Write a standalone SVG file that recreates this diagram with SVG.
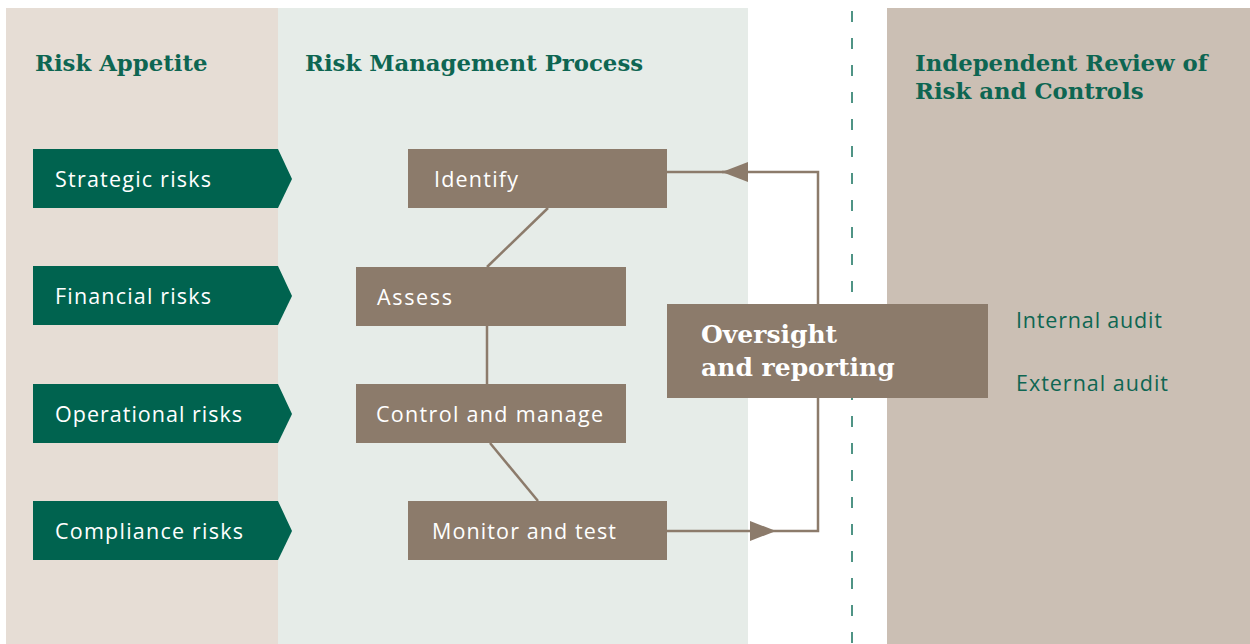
<svg xmlns="http://www.w3.org/2000/svg" width="1250" height="644" viewBox="0 0 1250 644">
  <defs>
    <style>
      .head { font-family: "DejaVu Serif", "Liberation Serif", serif; font-weight: bold; font-size: 22.8px; fill: #0e6652; }
      .risk { fill: #00634f; }
      .step { fill: #8c7b6b; }
      .lbl { font-family: "Open Sans", "Liberation Sans", Arial, sans-serif; font-size: 21.5px; fill: #ffffff; }
      .audit { font-family: "Open Sans", "Liberation Sans", Arial, sans-serif; font-size: 21.5px; fill: #0e6652; }
      .big { font-family: "DejaVu Serif", "Liberation Serif", serif; font-weight: bold; font-size: 25px; fill: #ffffff; }
      .link { stroke: #8c7b6b; stroke-width: 2.5; fill: none; }
    </style>
    <marker id="tri" viewBox="0 0 26 20" refX="26" refY="10" markerWidth="26" markerHeight="20" markerUnits="userSpaceOnUse" orient="auto">
      <path d="M0,0 L26,10 L0,20 Z" fill="#8c7b6b"/>
    </marker>
  </defs>

  <rect width="1250" height="644" fill="#ffffff"/>

  <!-- column backgrounds -->
  <g id="panels">
    <rect x="6" y="8" width="272" height="636" fill="#e6ddd5"/>
    <rect x="278" y="8" width="470" height="636" fill="#e6ece8"/>
    <rect x="887" y="8" width="363" height="636" fill="#cbbfb4"/>
    <line x1="852" y1="11" x2="852" y2="644" stroke="#4f9485" stroke-width="2" stroke-dasharray="11 16"/>
  </g>

  <!-- column headings -->
  <g id="headings">
    <text class="head" x="35" y="71">Risk Appetite</text>
    <text class="head" x="305" y="71">Risk Management Process</text>
    <text class="head" x="915" y="71">Independent Review of</text>
    <text class="head" x="915" y="99">Risk and Controls</text>
  </g>

  <!-- risk categories -->
  <g id="strategic">
    <path class="risk" d="M33,149 H278 L292,179 L278,208 H33 Z"/>
    <text class="lbl" x="55" y="187" textLength="156" lengthAdjust="spacing">Strategic risks</text>
  </g>
  <g id="financial">
    <path class="risk" d="M33,266 H278 L292,296 L278,325 H33 Z"/>
    <text class="lbl" x="55" y="304" textLength="156" lengthAdjust="spacing">Financial risks</text>
  </g>
  <g id="operational">
    <path class="risk" d="M33,384 H278 L292,414 L278,443 H33 Z"/>
    <text class="lbl" x="55" y="422" textLength="187" lengthAdjust="spacing">Operational risks</text>
  </g>
  <g id="compliance">
    <path class="risk" d="M33,501 H278 L292,531 L278,560 H33 Z"/>
    <text class="lbl" x="55" y="539" textLength="188" lengthAdjust="spacing">Compliance risks</text>
  </g>

  <!-- connectors -->
  <g id="connectors">
    <line class="link" x1="548" y1="208" x2="487" y2="267"/>
    <line class="link" x1="487" y1="326" x2="487" y2="384"/>
    <line class="link" x1="490" y1="443" x2="538" y2="501"/>
    <path class="link" d="M667,531 H776" marker-end="url(#tri)"/>
    <path class="link" d="M776,531 H818 V398"/>
    <path class="link" d="M818,304 V172 H722"/>
    <path class="link" d="M748,172 H722" marker-end="url(#tri)"/>
    <line class="link" x1="722" y1="172" x2="667" y2="172"/>
  </g>

  <!-- process steps -->
  <g id="identify">
    <rect class="step" x="408" y="149" width="259" height="59"/>
    <text class="lbl" x="434" y="187" textLength="84" lengthAdjust="spacing">Identify</text>
  </g>
  <g id="assess">
    <rect class="step" x="356" y="267" width="270" height="59"/>
    <text class="lbl" x="377" y="305" textLength="75" lengthAdjust="spacing">Assess</text>
  </g>
  <g id="control">
    <rect class="step" x="356" y="384" width="270" height="59"/>
    <text class="lbl" x="376" y="422" textLength="227" lengthAdjust="spacing">Control and manage</text>
  </g>
  <g id="monitor">
    <rect class="step" x="408" y="501" width="259" height="59"/>
    <text class="lbl" x="432" y="539" textLength="184" lengthAdjust="spacing">Monitor and test</text>
  </g>
  <g id="oversight">
    <rect class="step" x="667" y="304" width="321" height="94"/>
    <text class="big" x="701" y="343">Oversight</text>
    <text class="big" x="701" y="376">and reporting</text>
  </g>

  <!-- review bodies -->
  <g id="internal-audit">
    <text class="audit" x="1016" y="328" textLength="146" lengthAdjust="spacing">Internal audit</text>
  </g>
  <g id="external-audit">
    <text class="audit" x="1016" y="391" textLength="152" lengthAdjust="spacing">External audit</text>
  </g>
</svg>
